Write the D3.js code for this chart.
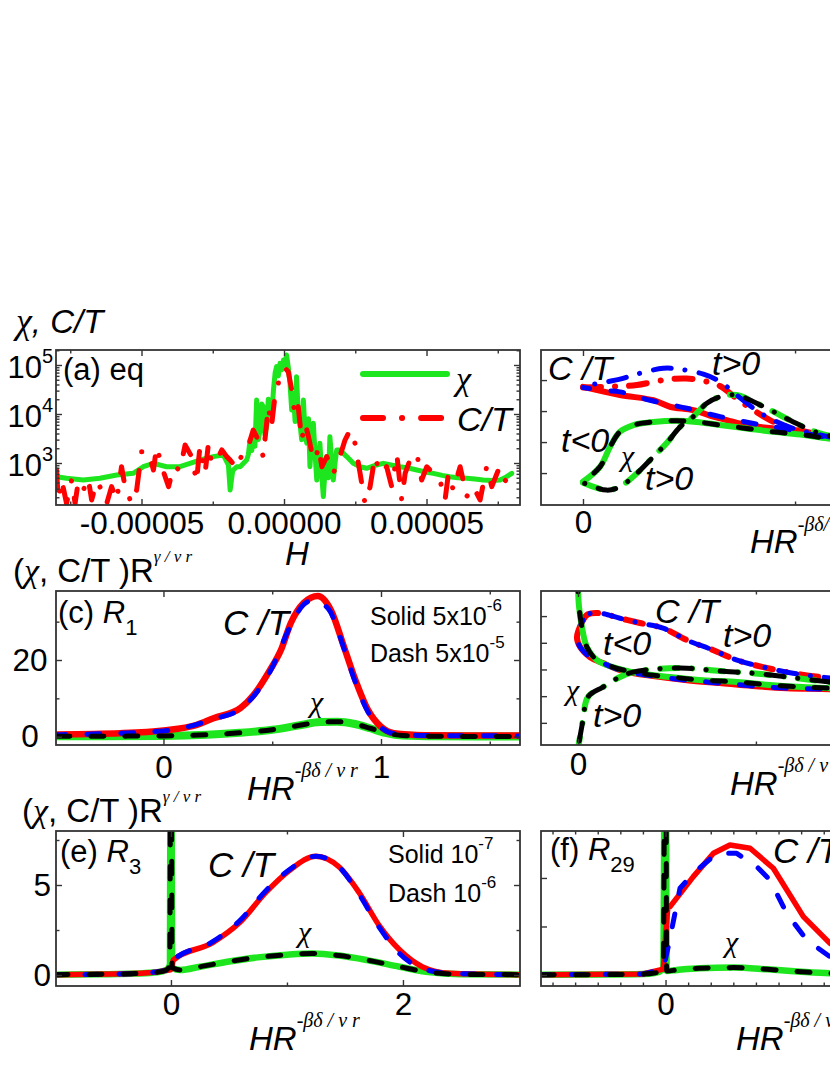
<!DOCTYPE html>
<html><head><meta charset="utf-8">
<script src="https://cdn.jsdelivr.net/npm/d3@7"></script>
<style>body{margin:0;background:#fff}</style>
</head><body>
<script>
// ================= DATA =================
// (a) equilibrium: H in units of 1e-5
const aTickH = [-5, 0, 5];
const aTickLabels = ["-0.00005", "0.00000", "0.00005"];
const aMinorH = [-7.5, -2.5, 2.5, 7.5];
const aDecades = [3, 4, 5];
const aChi = [[-7.98,526],[-7.63,487],[-7.04,450],[-6.46,487],[-5.87,570],[-5.29,615],[-4.94,840],[-4.58,985],[-4.12,840],[-3.65,840],[-3.30,985],[-2.95,1150],[-2.48,1350],[-2.13,1460],[-1.95,900],[-1.89,281],[-1.80,700],[-1.66,840],[-1.54,840],[-1.31,1150],[-1.25,1500],[-1.19,2940],[-1.13,1800],[-1.08,4030],[-1.02,2200],[-0.96,19300],[-0.90,3000],[-0.84,4710],[-0.78,16000],[-0.73,14100],[-0.67,3800],[-0.61,5510],[-0.55,20000],[-0.49,12100],[-0.43,9000],[-0.37,30900],[-0.31,70000],[-0.26,92500],[-0.20,60000],[-0.14,108000],[-0.08,80000],[-0.02,126000],[0.03,100000],[0.09,160000],[0.15,90000],[0.21,42300],[0.27,12000],[0.33,26400],[0.39,7000],[0.44,57800],[0.50,10000],[0.56,6460],[0.62,3000],[0.68,19300],[0.74,4000],[0.80,2520],[0.86,8000],[0.91,840],[0.97,3000],[1.03,6460],[1.09,1500],[1.15,450],[1.21,1200],[1.26,2520],[1.32,600],[1.38,206],[1.44,700],[1.50,1350],[1.56,500],[1.61,3440],[1.67,1200],[1.73,450],[1.79,1000],[1.85,1840],[1.96,1840],[2.20,1350],[2.43,985],[2.67,840],[2.90,780],[3.20,900],[3.49,985],[3.80,900],[4.07,840],[4.40,780],[4.66,720],[5.00,650],[5.24,615],[5.55,560],[5.82,526],[6.10,500],[6.41,487],[6.70,470],[6.99,450],[7.30,440],[7.58,450],[7.80,520],[7.99,615]];
const aCT = [[-7.98,720],[-7.92,176],[-7.80,450],[-7.63,150],[-7.45,450],[-7.33,150],[-7.22,416],[-7.04,281],[-6.87,487],[-6.75,176],[-6.57,416],[-6.46,329],[-6.22,150],[-6.05,329],[-5.87,176],[-5.70,840],[-5.58,329],[-5.35,150],[-5.17,281],[-5.00,1700],[-4.76,1700],[-4.58,720],[-4.47,2150],[-4.23,665],[-4.05,329],[-3.88,840],[-3.65,720],[-3.47,2330],[-3.24,1350],[-3.07,416],[-2.95,2150],[-2.77,615],[-2.65,2520],[-2.54,985],[-2.36,1150],[-2.18,1850],[-2.01,1350],[-1.89,1150],[-1.66,780],[-1.48,1460],[-1.31,1700],[-1.08,4710],[-0.90,2940],[-0.73,1350],[-0.55,14100],[-0.44,5510],[-0.32,22600],[-0.20,42300],[-0.08,79000],[0.04,85500],[0.15,73000],[0.27,30900],[0.39,8830],[0.50,14100],[0.62,2940],[0.74,6460],[0.86,3440],[0.98,1570],[1.10,1150],[1.21,2150],[1.33,840],[1.50,1350],[1.73,615],[1.96,1350],[2.14,2940],[2.32,4710],[2.49,2520],[2.67,615],[2.84,150],[3.02,329],[3.19,1350],[3.37,615],[3.60,840],[3.78,329],[3.96,1460],[4.13,176],[4.25,615],[4.42,1150],[4.66,1570],[4.83,450],[5.01,840],[5.24,615],[5.47,450],[5.65,176],[5.77,615],[5.94,281],[6.18,840],[6.41,206],[6.64,329],[6.88,176],[7.11,840],[7.29,329],[7.52,720],[7.70,385],[7.87,526]];

const bChiNeg = [[0,0.72],[0.040,1.20],[0.064,1.85],[0.087,2.33],[0.119,2.55],[0.166,2.65],[0.221,2.69],[0.268,2.65],[0.323,2.55],[0.386,2.44],[0.449,2.33],[0.520,2.23],[0.575,2.12],[0.677,1.94],[0.818,1.77],[0.983,1.61]];
const bChiPos = [[0,0.69],[0.056,0.45],[0.087,0.56],[0.127,0.99],[0.166,1.53],[0.197,1.96],[0.229,2.49],[0.260,2.82],[0.292,3.25],[0.323,3.46],[0.362,3.52],[0.402,3.30],[0.449,2.98],[0.496,2.65],[0.559,2.28],[0.677,2.00],[0.818,1.81],[0.983,1.65]];
const bCTNegSolid = [[0,3.78],[0.087,3.52],[0.166,3.35],[0.205,3.14],[0.260,3.03],[0.307,2.82],[0.339,2.71],[0.386,2.55],[0.449,2.44],[0.496,2.39],[0.559,2.23],[0.677,2.02],[0.818,1.86],[0.983,1.70]];
const bCTNegDash = [[0,3.76],[0.056,3.66],[0.087,3.62],[0.158,3.35],[0.245,3.09],[0.323,2.82],[0.402,2.60],[0.473,2.44],[0.559,2.19],[0.677,2.00],[0.818,1.84],[0.983,1.68]];
const bCTPosRed = [[0,3.76],[0.087,3.80],[0.127,3.84],[0.189,4.00],[0.244,4.05],[0.292,3.95],[0.323,3.81],[0.362,3.41],[0.402,3.03],[0.449,2.65],[0.496,2.44],[0.559,2.23],[0.677,1.97],[0.818,1.81],[0.983,1.65]];
const bCTPosBlue = [[0,3.81],[0.087,4.03],[0.126,4.19],[0.189,4.38],[0.229,4.35],[0.284,4.19],[0.323,3.95],[0.362,3.52],[0.402,3.09],[0.441,2.76],[0.496,2.44],[0.559,2.23],[0.677,1.97],[0.818,1.81],[0.983,1.65]];

// (c) R1
const cChi = [[-0.49,0.1],[0,0.2],[0.2,0.5],[0.35,1.0],[0.5,1.8],[0.62,2.9],[0.72,3.8],[0.8,3.9],[0.88,3.3],[0.95,2.2],[1.02,1.0],[1.1,0.3],[1.25,0.1],[1.64,0.05]];
const cCTSolid = [[-0.49,0.6],[-0.2,0.9],[0,1.6],[0.15,3.0],[0.23,4.8],[0.355,7.5],[0.415,10.9],[0.49,17.4],[0.54,22.6],[0.585,29.6],[0.645,34.9],[0.71,36.7],[0.77,33.0],[0.83,23.4],[0.877,15.6],[0.94,7.0],[1.0,2.6],[1.06,0.9],[1.2,0.4],[1.4,0.3],[1.64,0.3]];
const cCTDash = [[-0.49,0.5],[0,1.5],[0.23,4.6],[0.355,7.3],[0.49,17.0],[0.585,29.0],[0.645,34.5],[0.69,35.6],[0.76,33.2],[0.83,23.0],[0.877,15.0],[0.94,6.5],[1.0,2.4],[1.06,0.8],[1.2,0.3],[1.64,0.2]];

// (d) scaled, region 2
const dChiNeg = [[-0.002,7],[0,5.97],[0.003,5.34],[0.011,4.59],[0.025,3.84],[0.053,3.35],[0.098,3.09],[0.166,2.87],[0.258,2.72],[0.351,2.60],[0.447,2.53],[0.539,2.42],[0.632,2.34],[0.708,2.30],[0.904,2.19],[1.2,2.08]];
const dChiPos = [[-0.003,-0.2],[0.014,1.10],[0.028,1.97],[0.070,2.34],[0.118,2.72],[0.154,2.90],[0.211,3.01],[0.306,3.05],[0.399,2.94],[0.492,2.86],[0.587,2.72],[0.708,2.53],[0.904,2.34],[1.2,2.15]];
const dCTNeg = [[0.014,4.85],[-0.003,4.21],[0.006,3.84],[0.034,3.46],[0.070,3.24],[0.118,2.98],[0.211,2.75],[0.306,2.60],[0.399,2.49],[0.492,2.38],[0.587,2.30],[0.708,2.26],[0.904,2.15],[1.2,2.04]];
const dCTPos = [[0.014,4.85],[0.028,5.07],[0.062,5.11],[0.118,4.92],[0.174,4.74],[0.239,4.55],[0.306,4.10],[0.379,3.73],[0.447,3.35],[0.520,3.09],[0.604,2.86],[0.708,2.68],[0.904,2.45],[1.2,2.23]];

// (e) R3
const eChi = [[-1,0.02],[-0.6,0.04],[-0.3,0.08],[-0.12,0.15],[-0.04,0.28],[-0.01,0.55],[0,20],[0.01,0.4],[0.08,0.28],[0.25,0.46],[0.5,0.75],[0.75,0.98],[1.0,1.13],[1.22,1.2],[1.45,1.08],[1.69,0.83],[1.97,0.46],[2.2,0.18],[2.5,0.04],[3.0,0.02]];
const eCTSolid = [[-1,0.02],[-0.5,0.05],[-0.2,0.12],[-0.05,0.25],[0,0.3],[0.02,0.83],[0.36,1.8],[0.59,2.9],[0.82,4.6],[1.02,5.8],[1.25,6.6],[1.45,6.0],[1.62,4.6],[1.8,2.7],[1.97,1.4],[2.17,0.45],[2.4,0.1],[3.0,0.02]];
const eCTDash = [[-1,0.02],[-0.5,0.05],[-0.2,0.12],[-0.05,0.25],[0,0.3],[0.02,0.83],[0.36,1.85],[0.59,3.0],[0.82,4.7],[1.02,5.85],[1.25,6.6],[1.45,6.0],[1.62,4.5],[1.8,2.6],[1.97,1.2],[2.17,0.35],[2.4,0.1],[3.0,0.02]];

// (f) R29
const fChi = [[-0.55,0.01],[-0.3,0.02],[-0.1,0.05],[-0.05,0.1],[-0.01,0.3],[0,20],[0.005,0.21],[0.05,0.26],[0.15,0.35],[0.3,0.38],[0.45,0.29],[0.6,0.17],[0.73,0.09],[1.0,0.04],[1.5,0.01]];
const fCTSolid = [[-0.55,0.01],[-0.1,0.05],[-0.01,0.3],[0.01,3.5],[0.02,3.52],[0.123,5.07],[0.212,6.27],[0.285,6.70],[0.374,6.53],[0.477,5.50],[0.61,3.01],[0.728,1.63],[0.86,0.8],[1.04,0.3],[1.5,0.05]];
const fCTDash = [[-0.55,0.01],[-0.1,0.05],[-0.01,0.3],[0.012,1.46],[0.064,4.47],[0.123,5.24],[0.227,6.27],[0.315,6.27],[0.404,5.58],[0.462,4.90],[0.536,3.18],[0.625,1.80],[0.728,0.94],[0.86,0.4],[1.04,0.15],[1.5,0.03]];

// ================= DRAWING =================
const SANS = "'Liberation Sans', Arial, sans-serif";
const SERIF = "'Liberation Serif', 'Times New Roman', serif";
const GREEN = "#1ee61e", RED = "#ff0000", BLUE = "#0000ff", BLACK = "#000";
const TICKFONT = 31.5;

const svg = d3.select("body").append("svg").attr("width", 830).attr("height", 1075)
  .style("background", "#fff");
const defs = svg.append("defs");

function panel(id, box, xDom, yDom, log) {
  const x = d3.scaleLinear().domain(xDom).range([box.x0, box.x1]);
  const y = (log ? d3.scaleLog() : d3.scaleLinear()).domain(yDom).range([box.y1, box.y0]);
  defs.append("clipPath").attr("id", "clip-" + id).append("rect")
    .attr("x", box.x0).attr("y", box.y0).attr("width", box.x1 - box.x0).attr("height", box.y1 - box.y0);
  const g = svg.append("g");
  const plot = g.append("g").attr("clip-path", `url(#clip-${id})`);
  return { x, y, g, plot, box };
}

function styleAxis(sel) {
  sel.select(".domain").remove();
  sel.selectAll(".tick line").attr("stroke", "#333").attr("stroke-width", 1.4);
  sel.attr("font-family", SANS).attr("font-size", TICKFONT).selectAll("text").attr("fill", "#000");
}

function ticks(p, o) {
  const { x, y, g, box } = p;
  const L = 6, l = 3.5;
  const add = (axis, tr) => g.append("g").attr("transform", tr).call(axis).call(styleAxis);
  add(d3.axisBottom(x).tickValues(o.xMajor).tickSize(-L).tickPadding(o.xPad || 8)
      .tickFormat((d, i) => o.xLabels ? o.xLabels[i] : ""), `translate(0,${box.y1})`);
  add(d3.axisTop(x).tickValues(o.xMajor).tickSize(-L).tickFormat(""), `translate(0,${box.y0})`);
  if (o.xMinor) {
    add(d3.axisBottom(x).tickValues(o.xMinor).tickSize(-l).tickFormat(""), `translate(0,${box.y1})`);
    add(d3.axisTop(x).tickValues(o.xMinor).tickSize(-l).tickFormat(""), `translate(0,${box.y0})`);
  }
  const yl = add(d3.axisLeft(y).tickValues(o.yMajor).tickSize(-L).tickPadding(o.yPad || 5)
      .tickFormat((d, i) => o.yLabels ? o.yLabels[i] : ""), `translate(${box.x0},0)`);
  if (o.yCenter !== undefined) {
    yl.selectAll(".tick text").attr("text-anchor", "middle").attr("x", o.yCenter - box.x0);
  }
  add(d3.axisRight(y).tickValues(o.yMajor).tickSize(-L).tickFormat(""), `translate(${box.x1},0)`);
  if (o.yMinor) {
    add(d3.axisLeft(y).tickValues(o.yMinor).tickSize(-l).tickFormat(""), `translate(${box.x0},0)`);
    add(d3.axisRight(y).tickValues(o.yMinor).tickSize(-l).tickFormat(""), `translate(${box.x1},0)`);
  }
}

function frame(p) {
  const b = p.box;
  p.g.append("rect").attr("x", b.x0).attr("y", b.y0).attr("width", b.x1 - b.x0).attr("height", b.y1 - b.y0)
    .attr("fill", "none").attr("stroke", "#333").attr("stroke-width", 1.8);
}

function series(p, data, color, width, dash, curve, offset) {
  const line = d3.line().x(d => p.x(d[0])).y(d => p.y(d[1])).curve(curve || d3.curveLinear);
  p.plot.append("path").datum(data).attr("d", line).attr("fill", "none")
    .attr("stroke", color).attr("stroke-width", width)
    .attr("stroke-linecap", "round").attr("stroke-linejoin", "round")
    .attr("stroke-dasharray", dash || null).attr("stroke-dashoffset", offset || 0);
}

function rich(x, y, parts, anchor) {
  const t = svg.append("text").attr("x", x).attr("y", y).attr("text-anchor", anchor || "start")
    .attr("font-family", SANS).attr("fill", "#000");
  parts.forEach(p => {
    t.append("tspan").text(p.t).attr("font-size", p.s || 32)
      .attr("font-style", p.i ? "italic" : "normal")
      .attr("font-family", p.f || SANS)
      .attr("dy", p.dy || 0).attr("dx", p.dx || 0);
  });
  return t;
}

const DASH = "13,21", DD = "18,14,0.1,14";

// ---------- Panel (a) ----------
const pa = panel("a", { x0: 56, x1: 520, y0: 350, y1: 505 }, [-8.0, 8.28], [139, 202300], true);
series(pa, aChi, GREEN, 5, null);
series(pa, aCT, RED, 5, "20,19,0.1,19");
const aMinorY = [];
[2, 3, 4].forEach(k => d3.range(2, 10).forEach(m => aMinorY.push(m * Math.pow(10, k))));
aMinorY.push(200000);
ticks(pa, { xMajor: aTickH, xMinor: aMinorH, xLabels: aTickLabels, xPad: 7,
  yMajor: aDecades.map(d => Math.pow(10, d)), yMinor: aMinorY });
frame(pa);
aDecades.forEach(d => {
  rich(53, pa.y(Math.pow(10, d)) + 13, [{ t: "10", s: 31 }, { t: String(d), s: 20, dy: -15 }], "end");
});
pa.g.append("line").attr("x1", 363).attr("x2", 447).attr("y1", 374).attr("y2", 374)
  .attr("stroke", GREEN).attr("stroke-width", 6).attr("stroke-linecap", "round");
pa.g.append("line").attr("x1", 363).attr("x2", 447).attr("y1", 418).attr("y2", 418)
  .attr("stroke", RED).attr("stroke-width", 6).attr("stroke-linecap", "round").attr("stroke-dasharray", "20,19,0.1,19");
rich(456, 390, [{ t: "χ", s: 34, i: true, f: SERIF }]);
rich(457, 431, [{ t: "C/T", s: 34, i: true }]);
rich(63, 380, [{ t: "(a) eq", s: 31 }]);
rich(16, 333, [{ t: "χ", s: 36, i: true, f: SERIF }, { t: ", C/T", s: 33, i: true }]);
rich(285, 565, [{ t: "H", s: 33, i: true }]);

// ---------- Panel (b) ----------
const pb = panel("b", { x0: 541, x1: 1005, y0: 350, y1: 505 }, [-0.099, 0.995], [-0.03, 4.97]);
series(pb, bCTNegSolid, RED, 6, null, d3.curveCatmullRom);
series(pb, bCTPosRed, RED, 6, DD, d3.curveCatmullRom);
series(pb, bChiNeg, GREEN, 6, null, d3.curveCatmullRom);
series(pb, bChiPos, GREEN, 6, DD, d3.curveCatmullRom);
series(pb, bCTNegDash, BLUE, 5, DASH, d3.curveCatmullRom, 6);
series(pb, bCTPosBlue, BLUE, 5, DD, d3.curveCatmullRom, 20);
series(pb, bChiNeg, BLACK, 5, DASH, d3.curveCatmullRom, 20);
series(pb, bChiPos, BLACK, 5, DD, d3.curveCatmullRom, 30);
ticks(pb, { xMajor: [0], xMinor: [0.5], xLabels: ["0"], xPad: 6, yMajor: [1, 2, 3, 4] });
frame(pb);
rich(548, 380, [{ t: "C /T", s: 34, i: true }]);
rich(712, 375, [{ t: "t>0", s: 34, i: true }]);
rich(561, 452, [{ t: "t<0", s: 34, i: true }]);
rich(621, 466, [{ t: "χ", s: 30, i: true, f: SERIF }]);
rich(645, 490, [{ t: "t>0", s: 34, i: true }]);
rich(750, 553, [{ t: "HR", s: 33, i: true }, { t: "-βδ/νr", s: 20, i: true, f: SERIF, dy: -22 }]);

// ---------- Panel (c) ----------
const pc = panel("c", { x0: 56, x1: 520, y0: 591, y1: 745 }, [-0.494, 1.639], [-2.17, 38.0]);
series(pc, cChi, GREEN, 8, null, d3.curveMonotoneX);
series(pc, cCTSolid, RED, 6.5, null, d3.curveMonotoneX);
series(pc, cCTDash, BLUE, 5, DASH, d3.curveMonotoneX, 4);
series(pc, cChi, BLACK, 5, DASH, d3.curveMonotoneX);
ticks(pc, { xMajor: [0, 1], xMinor: [0.5, 1.5], xLabels: ["0", "1"], xPad: 11,
  yMajor: [0, 20], yMinor: [10, 30], yLabels: ["0", "20"], yPad: 6, yCenter: 30 });
frame(pc);
rich(58, 623, [{ t: "(c) ", s: 31 }, { t: "R", s: 31, i: true }, { t: "1", s: 22, dy: 12 }]);
rich(223, 635, [{ t: "C /T", s: 35, i: true }]);
rich(370, 625, [{ t: "Solid 5x10", s: 25 }, { t: "-6", s: 17, dy: -14 }]);
rich(370, 662, [{ t: "Dash 5x10", s: 25 }, { t: "-5", s: 17, dy: -14 }]);
rich(310, 712, [{ t: "χ", s: 30, i: true, f: SERIF }]);
rich(13, 582, [{ t: "(", s: 33 }, { t: "χ", s: 34, i: true, f: SERIF }, { t: ", C/T )R", s: 33 },
  { t: "γ / ν r", s: 17, i: true, f: SERIF, dy: -20 }]);
rich(247, 800, [{ t: "HR", s: 33, i: true }, { t: "-βδ / ν r", s: 20, i: true, f: SERIF, dy: -23 }]);

// ---------- Panel (d) ----------
const pd = panel("d", { x0: 541, x1: 1005, y0: 591, y1: 745 }, [-0.104, 1.2], [0.17, 5.94]);
series(pd, dCTNeg, RED, 6, null, d3.curveCatmullRom);
series(pd, dCTPos, RED, 6, DD, d3.curveCatmullRom);
series(pd, dChiNeg, GREEN, 6, null, d3.curveCatmullRom);
series(pd, dChiPos, GREEN, 6, DD, d3.curveCatmullRom);
series(pd, dCTNeg, BLUE, 5, DASH, d3.curveCatmullRom, 8);
series(pd, dCTPos, BLUE, 5, DD, d3.curveCatmullRom, 22);
series(pd, dChiNeg, BLACK, 5, DASH, d3.curveCatmullRom, 18);
series(pd, dChiPos, BLACK, 5, DD, d3.curveCatmullRom, 32);
ticks(pd, { xMajor: [0], xMinor: [0.5], xLabels: ["0"], xPad: 8, yMajor: [1, 2, 3, 4, 5] });
frame(pd);
rich(655, 623, [{ t: "C /T", s: 34, i: true }]);
rich(723, 647, [{ t: "t>0", s: 34, i: true }]);
rich(603, 655, [{ t: "t<0", s: 34, i: true }]);
rich(566, 700, [{ t: "χ", s: 30, i: true, f: SERIF }]);
rich(593, 727, [{ t: "t>0", s: 34, i: true }]);
rich(730, 795, [{ t: "HR", s: 33, i: true }, { t: "-βδ / ν r", s: 20, i: true, f: SERIF, dy: -23 }]);

// ---------- Panel (e) ----------
const pe = panel("e", { x0: 56, x1: 520, y0: 831, y1: 986 }, [-0.991, 3.009], [-0.61, 8.0]);
series(pe, eChi, GREEN, 6.5, null, d3.curveMonotoneX);
series(pe, eCTSolid, RED, 5.5, null, d3.curveMonotoneX);
series(pe, eCTDash, BLUE, 5, DASH, d3.curveMonotoneX, 4);
series(pe, eChi, BLACK, 5, DASH, d3.curveMonotoneX);
ticks(pe, { xMajor: [0, 2], xMinor: [1], xLabels: ["0", "2"], xPad: 7,
  yMajor: [0, 5], yMinor: [2.5, 7.5], yLabels: ["0", "5"], yPad: 5 });
frame(pe);
rich(60, 862, [{ t: "(e) ", s: 31 }, { t: "R", s: 31, i: true }, { t: "3", s: 22, dy: 12 }]);
rich(208, 877, [{ t: "C /T", s: 35, i: true }]);
rich(388, 863, [{ t: "Solid 10", s: 25 }, { t: "-7", s: 17, dy: -14 }]);
rich(388, 902, [{ t: "Dash 10", s: 25 }, { t: "-6", s: 17, dy: -14 }]);
rich(298, 942, [{ t: "χ", s: 30, i: true, f: SERIF }]);
rich(22, 822, [{ t: "(", s: 33 }, { t: "χ", s: 34, i: true, f: SERIF }, { t: ", C/T )R", s: 33 },
  { t: "γ / ν r", s: 17, i: true, f: SERIF, dy: -20 }]);
rich(249, 1050, [{ t: "HR", s: 33, i: true }, { t: "-βδ / ν r", s: 20, i: true, f: SERIF, dy: -23 }]);

// ---------- Panel (f) ----------
const pf = panel("f", { x0: 541, x1: 1005, y0: 831, y1: 986 }, [-0.551, 1.502], [-0.567, 7.42]);
series(pf, fChi, GREEN, 6.5, null, d3.curveMonotoneX);
series(pf, fCTSolid, RED, 5.5, null);
series(pf, fCTDash, BLUE, 5, DASH, null, 4);
series(pf, fChi, BLACK, 5, DASH, d3.curveMonotoneX);
ticks(pf, { xMajor: [0, 1], xMinor: d3.range(-5, 16).filter(k => k % 10 !== 0).map(k => k / 10),
  xLabels: ["0", ""], xPad: 7, yMajor: [0, 2.5, 5] });
frame(pf);
rich(550, 860, [{ t: "(f) ", s: 31 }, { t: "R", s: 31, i: true }, { t: "29", s: 22, dy: 12 }]);
rich(773, 863, [{ t: "C /T", s: 35, i: true }]);
rich(725, 952, [{ t: "χ", s: 30, i: true, f: SERIF }]);
rich(736, 1050, [{ t: "HR", s: 33, i: true }, { t: "-βδ / ν r", s: 20, i: true, f: SERIF, dy: -23 }]);
</script>
</body></html>
